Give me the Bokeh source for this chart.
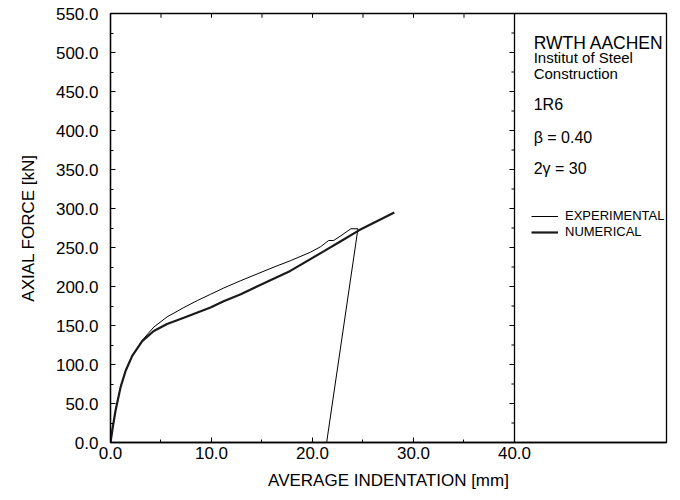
from bokeh.plotting import figure
from bokeh.models import (Range1d, FixedTicker, NumeralTickFormatter, Span,
                          Label, Legend, LegendItem)
from bokeh.embed import file_html
from bokeh.resources import INLINE

# Test 1R6 - axial force against average indentation
exp_indent = [0.0, 0.17, 0.5, 1.0, 1.5, 2.15, 3.14, 4.29, 5.6, 7.26, 8.6, 9.9,
              11.2, 12.9, 14.5, 16.2, 17.8, 19.8, 20.8, 21.6, 22.1, 22.8, 23.8,
              24.5, 21.4]
exp_force = [0.0, 15.0, 41.0, 71.0, 92.0, 111.0, 131.0, 148.0, 161.0, 173.0,
             182.0, 190.0, 198.0, 207.5, 216.0, 225.0, 233.0, 244.0, 251.0,
             259.0, 259.0, 265.0, 274.0, 274.0, 0.0]

num_indent = [0.0, 0.17, 0.5, 1.0, 1.5, 2.15, 3.14, 4.29, 5.6, 7.26, 9.9,
              11.2, 12.9, 14.5, 17.8, 21.1, 22.8, 24.6, 28.1]
num_force = [0.0, 15.0, 41.0, 71.0, 92.0, 111.0, 130.0, 143.0, 152.0, 160.0,
             173.0, 181.0, 190.0, 200.0, 220.0, 245.0, 258.0, 272.0, 295.0]

# axis ticks
x_major = [0, 10, 20, 30, 40]
x_minor = [5, 15, 25, 35]
y_major = [0, 50, 100, 150, 200, 250, 300, 350, 400, 450, 500, 550]
y_minor = [25, 75, 125, 175, 225, 275, 325, 375, 425, 475, 525]

# info panel
panel_lines = ["RWTH AACHEN", "Institut of Steel", "Construction", "1R6",
               "\u03b2 = 0.40", "2\u03b3 = 30"]
series_names = ["EXPERIMENTAL", "NUMERICAL"]

FONT = "Liberation Sans"
X_DIV = 40          # divider between plot area and info panel
X_END = 55.05
Y_END = 550

p = figure(width=680, height=500, output_backend="svg", toolbar_location=None,
           x_range=Range1d(0, X_END), y_range=Range1d(0, Y_END),
           min_border_left=110, min_border_right=14, min_border_top=13,
           min_border_bottom=58, background_fill_color="white",
           border_fill_color="white")
p.grid.visible = False
p.outline_line_color = "black"
p.outline_line_width = 1.3

for ax, major, minor in ((p.xaxis[0], x_major, x_minor), (p.yaxis[0], y_major, y_minor)):
    ax.ticker = FixedTicker(ticks=major, minor_ticks=minor)
    ax.formatter = NumeralTickFormatter(format="0.0")
    ax.major_tick_in = 5
    ax.major_tick_out = 0
    ax.minor_tick_in = 3
    ax.minor_tick_out = 0
    ax.axis_line_color = "black"
    ax.axis_line_width = 1.3
    ax.major_tick_line_color = "black"
    ax.minor_tick_line_color = "black"
    ax.major_label_text_font = FONT
    ax.major_label_text_font_size = "17px"
    ax.major_label_text_color = "black"
    ax.axis_label_text_font = FONT
    ax.axis_label_text_font_size = "17px"
    ax.axis_label_text_font_style = "normal"
    ax.axis_label_text_color = "black"

p.xaxis.axis_label = "AVERAGE INDENTATION [mm]"
p.yaxis.axis_label = "AXIAL FORCE [kN]"
p.xaxis.major_label_standoff = 4
p.xaxis.axis_label_standoff = 9
p.yaxis.major_label_standoff = 12
p.yaxis.axis_label_standoff = 15

# divider line with inward ticks
p.add_layout(Span(location=X_DIV, dimension="height", line_color="black",
                  line_width=1.3))
p.segment(x0=[X_DIV] * len(y_major), y0=y_major,
          x1=[X_DIV - 0.5] * len(y_major), y1=y_major,
          line_color="black", line_width=1)
p.segment(x0=[X_DIV] * len(y_minor), y0=y_minor,
          x1=[X_DIV - 0.3] * len(y_minor), y1=y_minor,
          line_color="black", line_width=1)

# ticks along the top edge
top_ticks = sorted(x_major[1:-1] + x_minor)
p.segment(x0=top_ticks, y0=[Y_END] * len(top_ticks),
          x1=top_ticks, y1=[Y_END - 5.5] * len(top_ticks),
          line_color="black", line_width=1)

# curves
r_exp = p.line(exp_indent, exp_force, line_color="black", line_width=1)
r_num = p.line(num_indent, num_force, line_color="#1a1a1a", line_width=2.2)

# info panel text
panel_y = [512.8, 493.0, 473.7, 432.7, 391.0, 351.0]
panel_size = ["17.5px", "15px", "15px", "16px", "16px", "16px"]
for txt, yy, sz in zip(panel_lines, panel_y, panel_size):
    p.add_layout(Label(x=41.9, y=yy, text=txt, text_font=FONT,
                       text_font_size=sz, text_baseline="middle",
                       text_color="black"))

legend = Legend(items=[LegendItem(label=series_names[0], renderers=[r_exp]),
                       LegendItem(label=series_names[1], renderers=[r_num])],
                location=(421, 203), orientation="vertical",
                border_line_color=None, background_fill_alpha=0,
                padding=0, margin=0, spacing=1, glyph_width=27,
                glyph_height=14, label_height=14, label_standoff=7,
                label_text_font=FONT, label_text_font_size="13px",
                label_text_color="black")
p.add_layout(legend, "center")

open("out.html", "w").write(file_html(p, INLINE))
